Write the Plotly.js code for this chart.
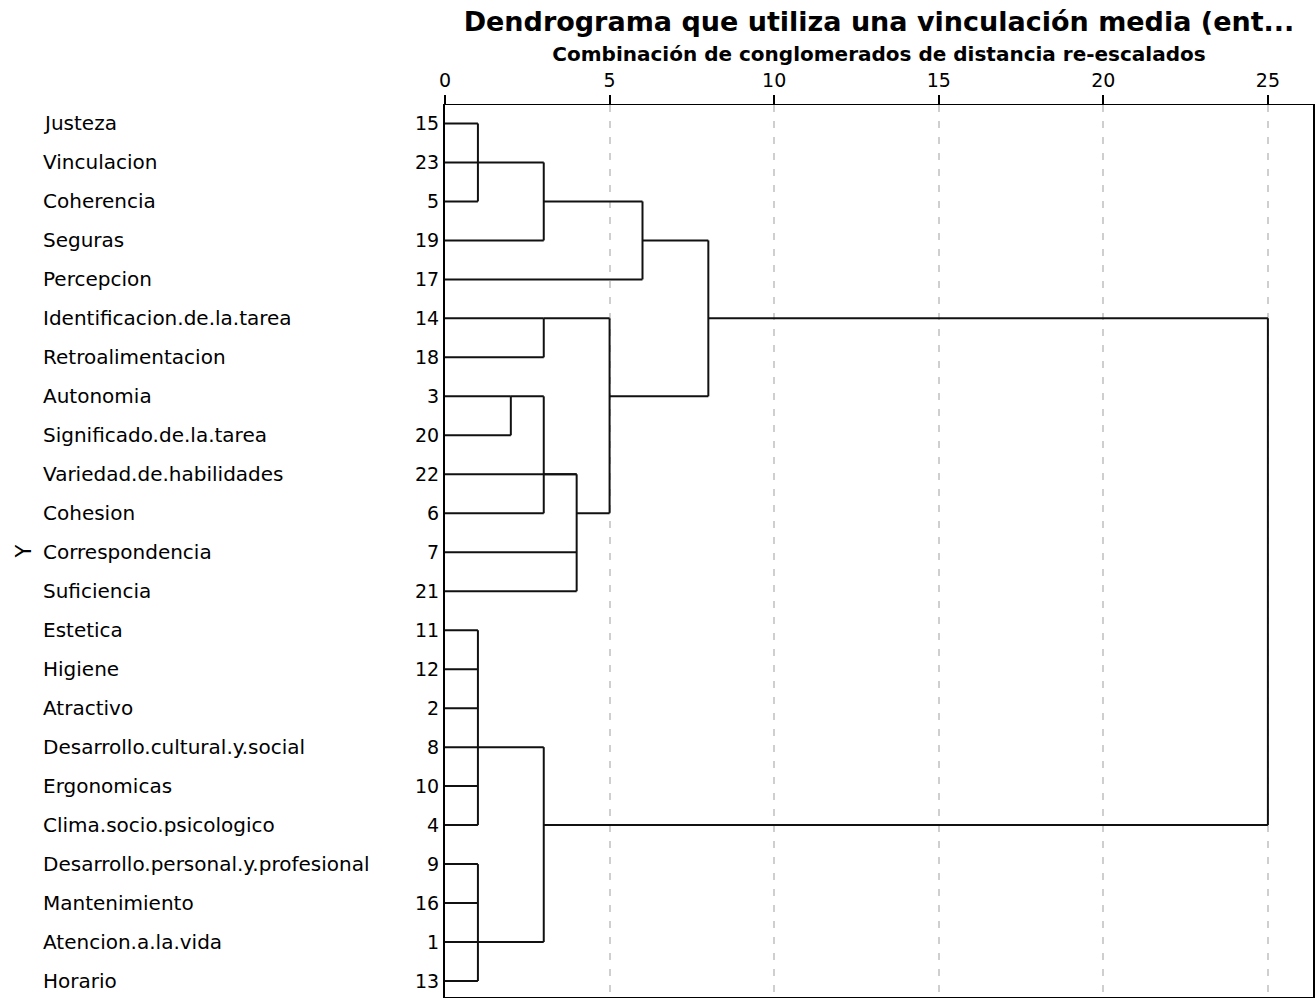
<!DOCTYPE html>
<html>
<head>
<meta charset="utf-8">
<script src="https://cdn.plot.ly/plotly-3.0.1.min.js"></script>
<style>
  html, body { margin: 0; padding: 0; background: #ffffff; }
  #chart { width: 1315px; height: 998px; }
</style>
</head>
<body>
<div id="chart"></div>
<script>
// ---- Data ----
// Leaves in dendrogram order (top to bottom): case number and variable name
const leafIds = [15, 23, 5, 19, 17, 14, 18, 3, 20, 22, 6, 7, 21, 11, 12, 2, 8, 10, 4, 9, 16, 1, 13];
const leafNames = [
  'Justeza', 'Vinculacion', 'Coherencia', 'Seguras', 'Percepcion',
  'Identificacion.de.la.tarea', 'Retroalimentacion', 'Autonomia',
  'Significado.de.la.tarea', 'Variedad.de.habilidades', 'Cohesion',
  'Correspondencia', 'Suficiencia', 'Estetica', 'Higiene', 'Atractivo',
  'Desarrollo.cultural.y.social', 'Ergonomicas', 'Clima.socio.psicologico',
  'Desarrollo.personal.y.profesional', 'Mantenimiento', 'Atencion.a.la.vida', 'Horario'
];

// Merges (rescaled distance). Children: 'L<row>' = leaf at row (1-based), 'M<i>' = earlier merge
const mergeHeights = [1, 3, 6, 3, 2, 3, 4, 5, 8, 1, 1, 3, 25];
const mergeChildren = [
  ['L1', 'L2', 'L3'],
  ['M0', 'L4'],
  ['M1', 'L5'],
  ['L6', 'L7'],
  ['L8', 'L9'],
  ['M4', 'L11'],
  ['M5', 'L10', 'L12', 'L13'],
  ['M3', 'M6'],
  ['M2', 'M7'],
  ['L14', 'L15', 'L16', 'L17', 'L18', 'L19'],
  ['L20', 'L21', 'L22', 'L23'],
  ['M9', 'M10'],
  ['M8', 'M11']
];
// Row at which each merge's connecting line leaves toward its parent
const mergeOutRow = [2, 3, 4, 6, 8, 10, 11, 8, 6, 17, 22, 19, null];

const xTicks = [0, 5, 10, 15, 20, 25];

// ---- Build dendrogram segments ----
const lx = [], ly = [];
mergeHeights.forEach(function (d, i) {
  const rows = [];
  mergeChildren[i].forEach(function (c) {
    let r, start;
    if (c[0] === 'L') { r = parseInt(c.slice(1), 10); start = 0; }
    else { const j = parseInt(c.slice(1), 10); r = mergeOutRow[j]; start = mergeHeights[j]; }
    rows.push(r);
    lx.push(start, d, null); ly.push(r, r, null);
  });
  lx.push(d, d, null); ly.push(Math.min.apply(null, rows), Math.max.apply(null, rows), null);
});

const rowPos = leafIds.map(function (_, i) { return i + 1; });

const trace = {
  type: 'scatter', mode: 'lines', x: lx, y: ly,
  line: { color: '#111111', width: 2 },
  hoverinfo: 'skip', showlegend: false, connectgaps: false
};

// ---- Layout ----
const ML = 445, PW = 868;
const FONT = 'DejaVu Sans, Arial, sans-serif';
const annotations = leafNames.map(function (name, i) {
  return {
    xref: 'paper', yref: 'y', x: (41 - ML) / PW, y: rowPos[i],
    xanchor: 'left', yanchor: 'middle', text: name, showarrow: false,
    font: { family: FONT, size: 20, color: '#000000' }
  };
});

const layout = {
  width: 1315, height: 998,
  margin: { l: ML, r: 2, t: 105, b: 1, pad: 0 },
  paper_bgcolor: '#ffffff', plot_bgcolor: '#ffffff',
  showlegend: false,
  title: {
    text: '<b>Dendrograma que utiliza una vinculación media (ent...</b>',
    font: { family: FONT, size: 27, color: '#000000' },
    xref: 'paper', x: 0.5, xanchor: 'center',
    yref: 'container', y: 1 - 22 / 998, yanchor: 'middle'
  },
  xaxis: {
    side: 'top', range: [0, 26.37], tickvals: xTicks, ticktext: xTicks.map(String),
    ticks: 'outside', ticklen: 9, tickwidth: 2, tickcolor: '#000000',
    showgrid: true, gridcolor: '#cfcfcf', gridwidth: 2, griddash: '7px,9px',
    zeroline: false, showline: true, linecolor: '#000000', linewidth: 1.5, mirror: true,
    tickfont: { family: FONT, size: 19, color: '#000000' },
    title: {
      text: '<b>Combinación de conglomerados de distancia re-escalados</b>',
      font: { family: FONT, size: 20, color: '#000000' }, standoff: 2
    },
    fixedrange: true
  },
  yaxis: {
    range: [23.41, 0.526], tickvals: rowPos, ticktext: leafIds.map(String),
    ticks: '', showgrid: false, zeroline: false,
    showline: true, linecolor: '#000000', linewidth: 2, mirror: true,
    tickfont: { family: FONT, size: 19, color: '#000000' },
    title: { text: 'Y', font: { family: FONT, size: 21, color: '#000000' }, standoff: 378 },
    fixedrange: true
  },
  annotations: annotations
};

Plotly.newPlot('chart', [trace], layout, { displayModeBar: false, staticPlot: true });
</script>
</body>
</html>
